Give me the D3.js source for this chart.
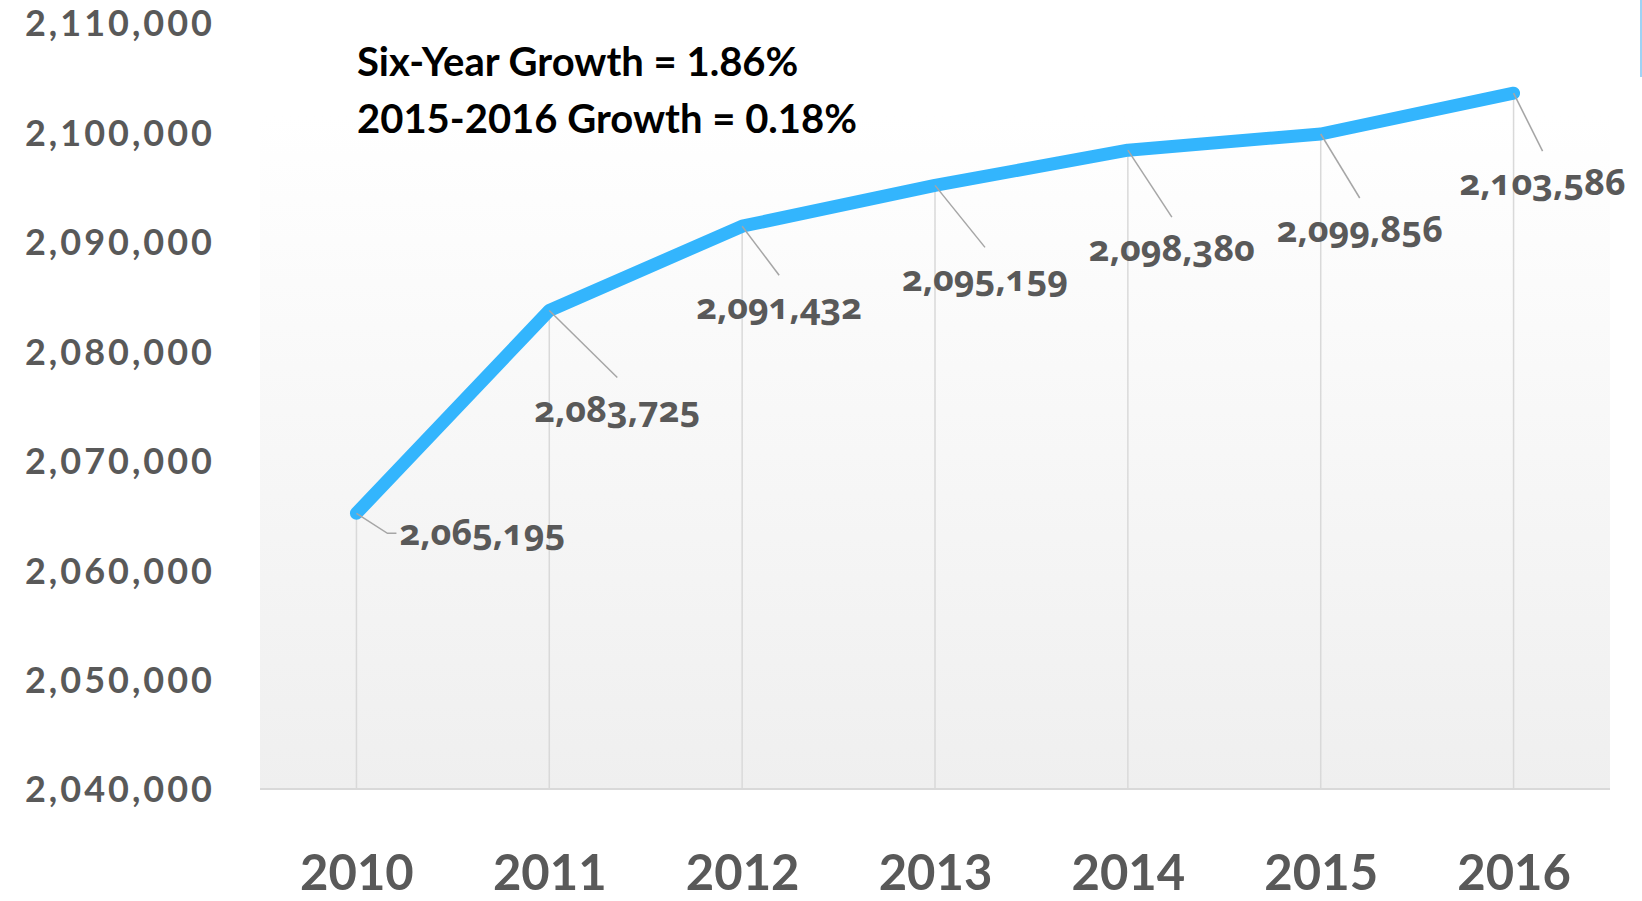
<!DOCTYPE html>
<html>
<head>
<meta charset="utf-8">
<script src="https://cdn.jsdelivr.net/npm/d3@7"></script>
<style>
  body { margin: 0; background: #fff; }
  svg { display: block; }
</style>
</head>
<body>
<svg id="chart" width="1642" height="901"></svg>
<script>
const width = 1642;
const height = 901;

// Data
const years = ["2010", "2011", "2012", "2013", "2014", "2015", "2016"];
const population = [2065195, 2083725, 2091432, 2095159, 2098380, 2099856, 2103586];
const yTicks = [2040000, 2050000, 2060000, 2070000, 2080000, 2090000, 2100000, 2110000];
const notes = ["Six-Year Growth = 1.86%", "2015-2016 Growth = 0.18%"];

// label leader offsets (layout only)
const labelOffsets = [[31, 20], [68, 67], [37, 49], [50, 62], [44, 67], [39, 64], [29, 58]];

const plot = { left: 260, right: 1610, top: 23, bottom: 789 };

const svg = d3.select("#chart");

const xScale = d3.scalePoint().domain(years).range([plot.left, plot.right]).padding(0.5);
const yScale = d3.scaleLinear().domain([2040000, 2110000]).range([plot.bottom, plot.top]);

// background gradient
const grad = svg.append("defs").append("linearGradient")
  .attr("id", "bg").attr("x1", 0).attr("y1", 0).attr("x2", 0).attr("y2", 1);
grad.append("stop").attr("offset", "0%").attr("stop-color", "#ffffff");
grad.append("stop").attr("offset", "12%").attr("stop-color", "#ffffff");
grad.append("stop").attr("offset", "100%").attr("stop-color", "#efefef");

svg.append("rect")
  .attr("x", plot.left).attr("y", plot.top)
  .attr("width", plot.right - plot.left).attr("height", plot.bottom - plot.top)
  .attr("fill", "url(#bg)");

// thin frame remnant at top right
svg.append("line")
  .attr("x1", width - 1).attr("x2", width - 1).attr("y1", 0).attr("y2", 77)
  .attr("stroke", "#9fd3f5").attr("stroke-width", 2);

// drop lines
svg.append("g").selectAll("line")
  .data(years)
  .enter().append("line")
  .attr("x1", d => xScale(d)).attr("x2", d => xScale(d))
  .attr("y1", plot.bottom)
  .attr("y2", (d, i) => yScale(population[i]))
  .attr("stroke", "#d9d9d9").attr("stroke-width", 1.5);

// baseline
svg.append("line")
  .attr("x1", plot.left).attr("x2", plot.right)
  .attr("y1", plot.bottom).attr("y2", plot.bottom)
  .attr("stroke", "#d9d9d9").attr("stroke-width", 2);

// axes
const yAxis = d3.axisLeft(yScale).tickValues(yTicks).tickFormat(d3.format(",")).tickSize(0).tickPadding(0);
const gy = svg.append("g").attr("transform", "translate(215,0)").call(yAxis);
gy.select(".domain").remove();
gy.selectAll("text")
  .attr("font-family", "Lato, sans-serif").attr("font-weight", "bold")
  .attr("font-size", 36).attr("fill", "#595959").attr("letter-spacing", 3)
  .attr("dy", "0.36em");

const xAxis = d3.axisBottom(xScale).tickSize(0).tickPadding(0);
const gx = svg.append("g").attr("transform", `translate(0,${plot.bottom})`).call(xAxis);
gx.select(".domain").remove();
gx.selectAll("text")
  .attr("font-family", "Lato, sans-serif").attr("font-weight", "bold")
  .attr("font-size", 49).attr("fill", "#595959")
  .attr("y", 101).attr("dy", 0);

// line
const line = d3.line()
  .x((d, i) => xScale(years[i]))
  .y(d => yScale(d));

svg.append("path")
  .datum(population)
  .attr("d", line)
  .attr("fill", "none")
  .attr("stroke", "#33b5fd")
  .attr("stroke-width", 13)
  .attr("stroke-linecap", "round")
  .attr("stroke-linejoin", "round");

// leader lines + data labels
const fmt = d3.format(",");
const labels = svg.append("g");
population.forEach((v, i) => {
  const px = xScale(years[i]);
  const py = yScale(v);
  const [dx, dy] = labelOffsets[i];
  if (i === 0) {
    labels.append("polyline")
      .attr("points", `${px},${py} ${px + dx},${py + dy} ${px + dx + 9},${py + dy}`)
      .attr("fill", "none").attr("stroke", "#a6a6a6").attr("stroke-width", 1.5);
    labels.append("text")
      .attr("x", px + dx + 12).attr("y", py + dy + 12)
      .attr("text-anchor", "start")
      .text(fmt(v));
  } else {
    labels.append("line")
      .attr("x1", px).attr("y1", py)
      .attr("x2", px + dx).attr("y2", py + dy)
      .attr("stroke", "#a6a6a6").attr("stroke-width", 1.5);
    labels.append("text")
      .attr("x", px + dx).attr("y", py + dy + 44)
      .attr("text-anchor", "middle")
      .text(fmt(v));
  }
});
labels.selectAll("text")
  .attr("font-family", "'Open Sans', sans-serif").attr("font-weight", "bold")
  .attr("font-size", 36).attr("fill", "#595959")
  .style("font-variant-numeric", "oldstyle-nums");

// growth notes
svg.append("g").selectAll("text")
  .data(notes)
  .enter().append("text")
  .attr("x", 357)
  .attr("y", (d, i) => 76 + i * 57)
  .attr("font-family", "Lato, sans-serif").attr("font-weight", "bold")
  .attr("font-size", 40).attr("fill", "#000")
  .text(d => d);
</script>
</body>
</html>
